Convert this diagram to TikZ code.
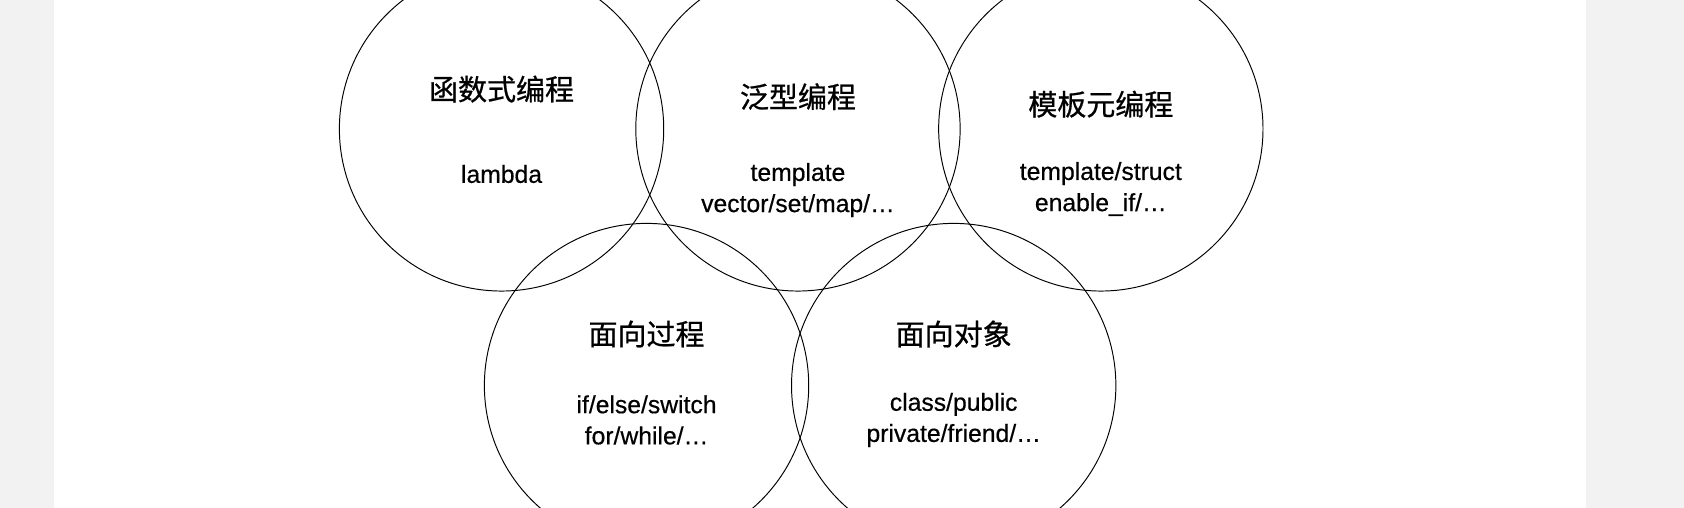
\documentclass[tikz,border=0pt]{standalone}
\usepackage{fontspec}
\setmainfont{Liberation Sans}[FakeBold=0.5]
\newfontfamily\cjk{Noto Sans CJK SC}[FakeBold=0.7]
\begin{document}
\begin{tikzpicture}[x=1pt,y=-1pt,
  ring/.style={draw=black,line width=0.9pt},
  ttl/.style={font=\cjk\fontsize{27}{31}\selectfont},
  txt/.style={font=\fontsize{23}{29}\selectfont,align=center}]
\fill[gray!10] (0,0) rectangle (1568,473);
\fill[white] (50,0) rectangle (1477,473);
\useasboundingbox (0,0) rectangle (1568,473);
\begin{scope}
\clip (50,0) rectangle (1477,473);
\draw[ring] (467,120) circle (151);
\draw[ring] (743,120) circle (151);
\draw[ring] (1025,120) circle (151);
\draw[ring] (602,359) circle (151);
\draw[ring] (888,359) circle (151);
\end{scope}
\node[ttl] (t1) at (467,83) {函数式编程};
\node[txt] (s1) at (467,162) {lambda};
\node[ttl] (t2) at (743,90) {泛型编程};
\node[txt] (s2) at (743,177) {template\\vector/set/map/\dots};
\node[ttl] (t3) at (1025,97) {模板元编程};
\node[txt] (s3) at (1025,176) {template/struct\\enable\_if/\dots};
\node[ttl] (t4) at (602,311) {面向过程};
\node[txt] (s4) at (602,391) {if/else/switch\\for/while/\dots};
\node[ttl] (t5) at (888,311) {面向对象};
\node[txt] (s5) at (888,391) {class/public\\private/friend/\dots};
\end{tikzpicture}
\end{document}
